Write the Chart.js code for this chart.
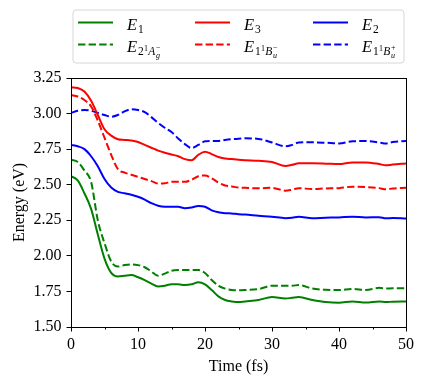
<!DOCTYPE html>
<html>
<head>
<meta charset="utf-8">
<script src="https://cdn.jsdelivr.net/npm/chart.js@4"></script>
<style>
html, body { margin: 0; padding: 0; background: #fff; }
</style>
</head>
<body>
<canvas id="energyChart" width="425" height="384"></canvas>
<script>
// time grid (fs)
const times = [0, 1, 2, 3, 4, 5, 6, 7, 8, 9, 10, 11, 12, 13, 14, 15, 16, 17, 18, 19, 20,
    21, 22, 23, 24, 25, 26, 28, 30, 32, 33, 34, 36, 38, 40, 42, 44, 46, 47, 48, 50];

// energies (eV)
const e1 = [2.56, 2.53, 2.44, 2.33, 2.15, 1.98, 1.88, 1.855, 1.86, 1.865, 1.85, 1.83, 1.805, 1.785, 1.79, 1.80, 1.80, 1.795, 1.80, 1.815, 1.80,
    1.76, 1.715, 1.69, 1.68, 1.675, 1.68, 1.69, 1.71, 1.70, 1.705, 1.71, 1.69, 1.675, 1.67, 1.68, 1.672, 1.68, 1.675, 1.678, 1.68];
const e2Ag = [2.675, 2.66, 2.60, 2.52, 2.25, 2.09, 1.96, 1.925, 1.935, 1.94, 1.935, 1.92, 1.89, 1.86, 1.875, 1.895, 1.90, 1.90, 1.90, 1.90, 1.88,
    1.83, 1.79, 1.77, 1.76, 1.758, 1.76, 1.767, 1.79, 1.79, 1.79, 1.795, 1.77, 1.762, 1.76, 1.767, 1.76, 1.775, 1.77, 1.772, 1.772];
const e3 = [3.185, 3.18, 3.155, 3.09, 2.99, 2.89, 2.845, 2.82, 2.815, 2.81, 2.80, 2.78, 2.76, 2.74, 2.725, 2.712, 2.70, 2.68, 2.672, 2.71, 2.732,
    2.715, 2.695, 2.685, 2.68, 2.675, 2.672, 2.668, 2.66, 2.632, 2.64, 2.65, 2.65, 2.648, 2.645, 2.657, 2.657, 2.645, 2.636, 2.642, 2.65];
const e1Bum = [3.13, 3.12, 3.095, 3.05, 2.95, 2.83, 2.71, 2.61, 2.585, 2.57, 2.555, 2.54, 2.525, 2.508, 2.51, 2.52, 2.52, 2.52, 2.535, 2.56, 2.565,
    2.545, 2.515, 2.495, 2.488, 2.48, 2.478, 2.475, 2.478, 2.458, 2.465, 2.475, 2.47, 2.474, 2.476, 2.486, 2.484, 2.476, 2.468, 2.473, 2.479];
const e2 = [2.78, 2.77, 2.75, 2.70, 2.63, 2.54, 2.48, 2.45, 2.44, 2.43, 2.415, 2.395, 2.37, 2.352, 2.345, 2.345, 2.345, 2.335, 2.34, 2.35, 2.345,
    2.32, 2.306, 2.30, 2.298, 2.293, 2.29, 2.282, 2.275, 2.265, 2.268, 2.275, 2.265, 2.268, 2.27, 2.275, 2.27, 2.272, 2.264, 2.266, 2.262];
const e1Bup = [3.005, 3.02, 3.025, 3.02, 3.005, 2.99, 2.978, 2.99, 3.015, 3.03, 3.025, 3.01, 2.975, 2.935, 2.90, 2.87, 2.825, 2.785, 2.758, 2.78, 2.805,
    2.808, 2.808, 2.815, 2.82, 2.823, 2.826, 2.822, 2.797, 2.77, 2.78, 2.797, 2.798, 2.795, 2.79, 2.805, 2.807, 2.797, 2.79, 2.80, 2.807];

const yTicks = [1.50, 1.75, 2.00, 2.25, 2.50, 2.75, 3.00, 3.25];
const xLabels = [0, 10, 20, 30, 40, 50];
const xMinor = [5, 15, 25, 35, 45];

const GREEN = '#008000', RED = '#ff0000', BLUE = '#0000ff';
const SERIF = '"Liberation Serif", serif';
const DASH = [7.4, 3.2];

function pts(vals) {
    return vals.map((v, i) => ({ x: times[i], y: v }));
}

function series(label, vals, color, dashed) {
    return {
        label: label,
        data: pts(vals),
        borderColor: color,
        borderWidth: 2,
        borderDash: dashed ? DASH : [],
        pointRadius: 0,
        fill: false,
        cubicInterpolationMode: 'monotone'
    };
}

// legend entries, matplotlib fills column by column
// part: [text, size, dy, italic, stackedOnPrevious]
const legendItems = [
    { color: GREEN, dashed: false, parts: [['E', 16.5, 0, true], ['1', 11.5, 3.5, false]] },
    { color: GREEN, dashed: true, parts: [['E', 16.5, 0, true], ['2', 11.5, 3.5, false], ['1', 8, -1, false], ['A', 11.5, 3.5, true], ['g', 8, 6.5, true], ['\u2212', 8, -1.5, false, true]] },
    { color: RED, dashed: false, parts: [['E', 16.5, 0, true], ['3', 11.5, 3.5, false]] },
    { color: RED, dashed: true, parts: [['E', 16.5, 0, true], ['1', 11.5, 3.5, false], ['1', 8, -1, false], ['B', 11.5, 3.5, true], ['u', 8, 6.5, true], ['\u2212', 8, -1.5, false, true]] },
    { color: BLUE, dashed: false, parts: [['E', 16.5, 0, true], ['2', 11.5, 3.5, false]] },
    { color: BLUE, dashed: true, parts: [['E', 16.5, 0, true], ['1', 11.5, 3.5, false], ['1', 8, -1, false], ['B', 11.5, 3.5, true], ['u', 8, 6.5, true], ['+', 8, -1.5, false, true]] }
];

function drawMath(ctx, x, y, parts) {
    let cx = x, prevX = x;
    parts.forEach(p => {
        const [txt, size, dy, italic, stacked] = p;
        ctx.font = (italic ? 'italic ' : '') + size + 'px ' + SERIF;
        const px = stacked ? prevX : cx;
        ctx.fillText(txt, px, y + dy);
        const w = ctx.measureText(txt).width;
        if (!stacked) {
            prevX = cx;
            cx += w + (italic ? 0.8 : 0.3);
        } else {
            cx = Math.max(cx, px + w);
        }
    });
}

const frameAndLegend = {
    id: 'frameAndLegend',
    afterDraw(chart) {
        const ctx = chart.ctx;
        const a = chart.chartArea;
        ctx.save();
        // full box around plot
        ctx.strokeStyle = '#000';
        ctx.lineWidth = 1;
        ctx.strokeRect(Math.round(a.left) + 0.5, Math.round(a.top) + 0.5, Math.round(a.right - a.left), Math.round(a.bottom - a.top));

        // short minor ticks on the time axis
        const xs = chart.scales.x;
        ctx.beginPath();
        xMinor.forEach(v => {
            const px = Math.round(xs.getPixelForValue(v)) + 0.5;
            ctx.moveTo(px, a.bottom);
            ctx.lineTo(px, a.bottom + 2.5);
        });
        ctx.stroke();

        // legend frame
        const lx = 73, ly = 10, lw = 331, lh = 53, r = 3;
        ctx.beginPath();
        ctx.moveTo(lx + r, ly);
        ctx.arcTo(lx + lw, ly, lx + lw, ly + lh, r);
        ctx.arcTo(lx + lw, ly + lh, lx, ly + lh, r);
        ctx.arcTo(lx, ly + lh, lx, ly, r);
        ctx.arcTo(lx, ly, lx + lw, ly, r);
        ctx.closePath();
        ctx.fillStyle = 'rgba(255,255,255,0.8)';
        ctx.fill();
        ctx.strokeStyle = '#d6d6d6';
        ctx.stroke();

        const colX = [78, 195, 313];
        const rowY = [22.5, 44.5];
        legendItems.forEach((it, i) => {
            const c = Math.floor(i / 2), rw = i % 2;
            const x0 = colX[c], y0 = rowY[rw];
            ctx.beginPath();
            ctx.setLineDash(it.dashed ? DASH : []);
            ctx.strokeStyle = it.color;
            ctx.lineWidth = 2;
            ctx.moveTo(x0, y0);
            ctx.lineTo(x0 + 35, y0);
            ctx.stroke();
            ctx.setLineDash([]);
            ctx.fillStyle = '#000';
            ctx.textBaseline = 'alphabetic';
            ctx.textAlign = 'left';
            drawMath(ctx, x0 + 49, y0 + 7, it.parts);
        });
        ctx.restore();
    }
};

const ctx = document.getElementById('energyChart').getContext('2d');
new Chart(ctx, {
    type: 'line',
    data: {
        datasets: [
            series('E1', e1, GREEN, false),
            series('E2Ag', e2Ag, GREEN, true),
            series('E3', e3, RED, false),
            series('E1Bu-', e1Bum, RED, true),
            series('E2', e2, BLUE, false),
            series('E1Bu+', e1Bup, BLUE, true)
        ]
    },
    options: {
        responsive: false,
        animation: false,
        layout: { padding: { top: 78, right: 19, left: 0, bottom: 0 } },
        plugins: {
            legend: { display: false },
            tooltip: { enabled: false }
        },
        scales: {
            x: {
                type: 'linear',
                min: 0,
                max: 50,
                afterFit: s => { s.height = 57; },
                afterBuildTicks: s => { s.ticks = xLabels.map(v => ({ value: v })); },
                ticks: {
                    autoSkip: false,
                    maxRotation: 0,
                    color: '#000',
                    padding: 4,
                    font: { family: SERIF, size: 16 },
                    callback: v => String(v)
                },
                grid: { drawOnChartArea: false, drawTicks: true, tickLength: 4.5, color: '#000' },
                border: { color: '#000', width: 1 },
                title: { display: true, text: 'Time (fs)', color: '#000', font: { family: SERIF, size: 16 }, padding: { top: 0, bottom: 8 } }
            },
            y: {
                min: 1.5,
                max: 3.25,
                afterFit: s => { s.width = 71; },
                afterBuildTicks: s => { s.ticks = yTicks.map(v => ({ value: v })); },
                ticks: {
                    color: '#000',
                    padding: 5,
                    font: { family: SERIF, size: 16 },
                    callback: v => Number(v).toFixed(2)
                },
                grid: { drawOnChartArea: false, drawTicks: true, tickLength: 4.5, color: '#000' },
                border: { color: '#000', width: 1 },
                title: { display: true, text: 'Energy (eV)', color: '#000', font: { family: SERIF, size: 16 }, padding: { top: 10, bottom: 0 } }
            }
        }
    },
    plugins: [frameAndLegend]
});
</script>
</body>
</html>
